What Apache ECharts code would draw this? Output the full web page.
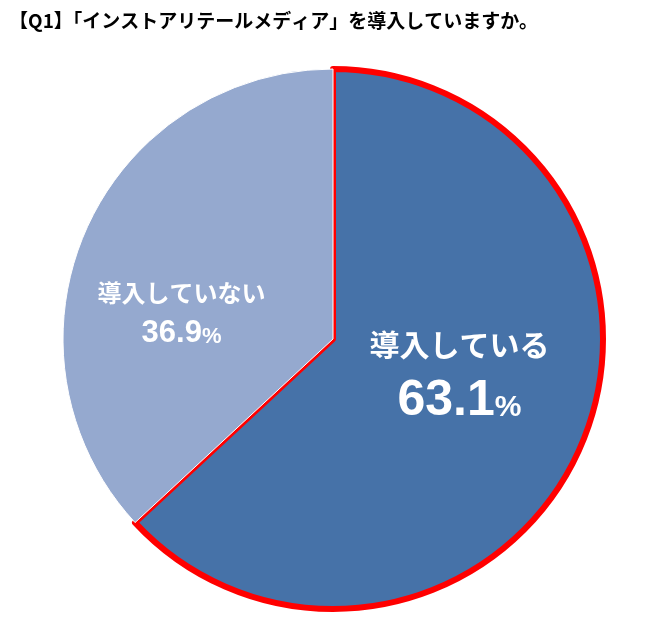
<!DOCTYPE html>
<html><head><meta charset="utf-8">
<script src="https://cdn.jsdelivr.net/npm/echarts@6/dist/echarts.min.js"></script>
<style>html,body{margin:0;background:#fff}#main{width:650px;height:622px}</style>
</head><body><div id="main"></div>
<script>
var names = ['導入している', '導入していない'];
var values = [63.1, 36.9];
var colors = ['#4672a8', '#95a9cf'];

var chart = echarts.init(document.getElementById('main'));
chart.setOption({
    title:{text:'【Q1】「インストアリテールメディア」を導入していますか。',left:4,top:6,
        textStyle:{fontSize:19,fontWeight:'bold',color:'#000',fontFamily:'Noto Sans CJK JP'}},
    series:[{
        type:'pie',center:[333,339],radius:[0,270],startAngle:90,clockwise:true,
        animation:false,silent:true,
        labelLine:{show:false},
        data:[
            {name:names[0],value:values[0],
             itemStyle:{color:colors[0],borderColor:'#ff0000',borderWidth:6},
             label:{show:true,position:'inside',offset:[0,-25],
                formatter:'{a|{b}}\n{v|{c}}{p|%}',
                rich:{a:{fontSize:30,color:'#fff',fontWeight:'bold',fontFamily:'Noto Sans CJK JP',lineHeight:64},
                      v:{fontSize:50,color:'#fff',fontWeight:'bold',fontFamily:'Liberation Sans'},
                      p:{fontSize:30,color:'#fff',fontWeight:'bold',fontFamily:'Liberation Sans',padding:[14,0,0,0]}}}},
            {name:names[1],value:values[1],
             itemStyle:{color:colors[1],borderColor:'#fff',borderWidth:1},
             label:{show:true,position:'inside',offset:[-25,25],
                formatter:'{a|{b}}\n{v|{c}}{p|%}',
                rich:{a:{fontSize:24,color:'#fff',fontWeight:'bold',fontFamily:'Noto Sans CJK JP',lineHeight:50},
                      v:{fontSize:31,color:'#fff',fontWeight:'bold',fontFamily:'Liberation Sans'},
                      p:{fontSize:22,color:'#fff',fontWeight:'bold',fontFamily:'Liberation Sans',padding:[6,0,0,0]}}}}
        ]
    }]
});
</script></body></html>
